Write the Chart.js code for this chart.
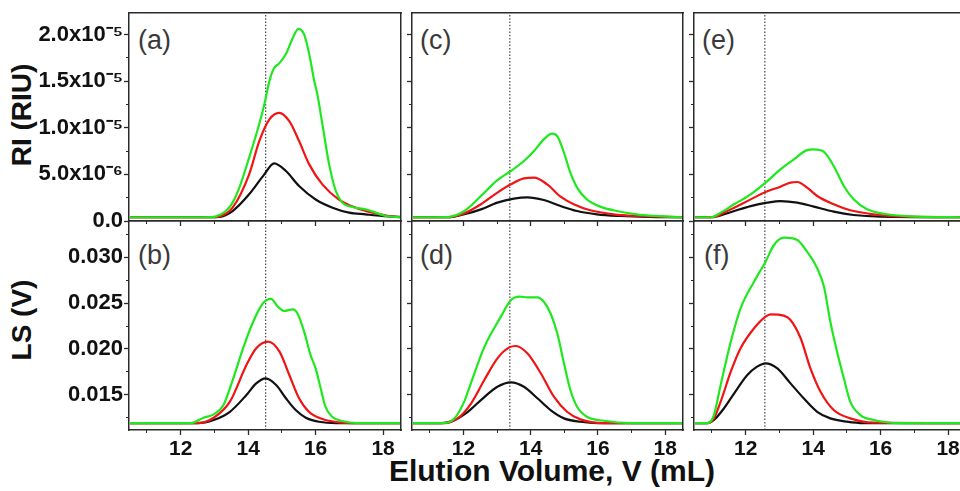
<!DOCTYPE html>
<html><head><meta charset="utf-8">
<script src="https://cdn.jsdelivr.net/npm/chart.js@4.4.0/dist/chart.umd.min.js"></script>
<style>
html,body{margin:0;padding:0;width:960px;height:491px;overflow:hidden;background:#fff;}
canvas{position:absolute;}
.t{position:absolute;font-family:'Liberation Sans',Arial,sans-serif;white-space:nowrap;color:#111;line-height:1;}
.ax{font-weight:bold;}
.pl{font-size:27px;color:#3a3a3a;}
</style></head><body>
<div class="t ax" style="left:22px;top:115px;font-size:28px;transform:translate(-50%,-50%) rotate(-90deg);">RI (RIU)</div>
<div class="t ax" style="left:22px;top:320px;font-size:28px;transform:translate(-50%,-50%) rotate(-90deg);">LS (V)</div>
<div class="t ax" style="left:552px;top:471px;font-size:30px;transform:translate(-50%,-50%);">Elution Volume, V (mL)</div>
<div id="letters"></div>
<script>
// ---------- data ----------
const xTickValues = [12, 14, 16, 18];
const xTickLabels = ['12', '14', '16', '18'];
const riTickValues = [0, 5e-6, 1e-5, 1.5e-5, 2e-5];
const riTickLabels = ['0.0', '5.0x10\u207B\u2076', '1.0x10\u207B\u2075', '1.5x10\u207B\u2075', '2.0x10\u207B\u2075'];
const lsTickValues = [0.015, 0.020, 0.025, 0.030];
const lsTickLabels = ['0.015', '0.020', '0.025', '0.030'];
const panelLetters = ['(a)', '(b)', '(c)', '(d)', '(e)', '(f)'];
const dottedV = [14.52, 13.38, 12.57];

// panel (a) RI
const aBlack = [[10.5,4e-7],[12.5,4e-7],[13.15,4.5e-7],[13.54,1.07e-6],[14.03,2.86e-6],[14.48,5.0e-6],[14.77,6.18e-6],[15.12,5.36e-6],[15.51,3.75e-6],[16.0,2.3e-6],[16.5,1.43e-6],[16.99,9e-7],[17.48,7.1e-7],[17.97,5.4e-7],[18.5,4.5e-7]];
const aRed = [[10.5,4e-7],[12.8,4e-7],[13.15,5e-7],[13.54,1.43e-6],[14.03,5.0e-6],[14.33,8.57e-6],[14.63,1.09e-5],[14.92,1.16e-5],[15.22,1.07e-5],[15.51,8.57e-6],[15.81,6.07e-6],[16.2,3.93e-6],[16.69,2.3e-6],[17.19,1.43e-6],[17.68,9e-7],[18.17,5.4e-7],[18.5,4e-7]];
const aGreen = [[10.5,4e-7],[12.7,4e-7],[13.05,5e-7],[13.34,1.07e-6],[13.54,1.97e-6],[13.74,3.58e-6],[14.03,6.8e-6],[14.33,1.04e-5],[14.48,1.25e-5],[14.63,1.5e-5],[14.77,1.64e-5],[14.92,1.69e-5],[15.12,1.79e-5],[15.32,1.96e-5],[15.49,2.06e-5],[15.66,2.0e-5],[15.81,1.79e-5],[15.96,1.5e-5],[16.05,1.36e-5],[16.2,1.04e-5],[16.4,6.07e-6],[16.6,3.2e-6],[16.79,1.97e-6],[17.09,1.5e-6],[17.48,1.25e-6],[17.78,9e-7],[18.07,5.4e-7],[18.5,4e-7]];
// panel (b) LS
const bBlack = [[10.5,0.0119],[12.5,0.0119],[12.98,0.01224],[13.46,0.01314],[13.95,0.01497],[14.24,0.01624],[14.52,0.01679],[14.83,0.01606],[15.12,0.01461],[15.41,0.01333],[15.71,0.01249],[16.1,0.01205],[16.6,0.0119],[18.5,0.0119]];
const bRed = [[10.5,0.0119],[12.49,0.0119],[12.98,0.01249],[13.46,0.01424],[13.95,0.01824],[14.24,0.02007],[14.59,0.02079],[14.93,0.0197],[15.22,0.01715],[15.51,0.01461],[15.8,0.01314],[16.2,0.01235],[16.68,0.01199],[17.2,0.0119],[18.5,0.0119]];
const bGreen = [[10.5,0.0119],[12.3,0.0119],[12.68,0.01249],[12.98,0.01286],[13.27,0.01388],[13.56,0.01679],[13.85,0.02007],[14.15,0.02297],[14.44,0.02498],[14.68,0.02545],[14.88,0.02461],[15.07,0.02414],[15.32,0.02432],[15.46,0.02389],[15.66,0.02188],[15.85,0.01933],[16.0,0.01788],[16.15,0.0157],[16.29,0.01369],[16.49,0.0126],[16.78,0.01213],[17.27,0.0119],[18.5,0.0119]];
// panel (c) RI
const cBlack = [[10.5,4e-7],[11.54,4e-7],[12.03,7.2e-7],[12.52,1.25e-6],[13.01,1.97e-6],[13.5,2.4e-6],[13.9,2.54e-6],[14.39,2.25e-6],[14.89,1.6e-6],[15.38,1.07e-6],[15.97,7.2e-7],[16.66,5.4e-7],[17.5,4.3e-7],[18.5,4e-7]];
const cRed = [[10.5,4e-7],[11.6,4.2e-7],[12.03,8.2e-7],[12.52,1.79e-6],[13.01,3.04e-6],[13.41,3.93e-6],[13.8,4.57e-6],[14.1,4.65e-6],[14.49,3.93e-6],[14.89,2.61e-6],[15.28,1.79e-6],[15.77,1.15e-6],[16.46,7.2e-7],[17.15,5.4e-7],[18.5,4e-7]];
const cGreen = [[10.5,4e-7],[11.5,4.2e-7],[12.03,1.07e-6],[12.52,2.68e-6],[13.01,4.39e-6],[13.41,5.36e-6],[13.8,6.43e-6],[14.1,7.5e-6],[14.39,8.75e-6],[14.64,9.36e-6],[14.79,9.1e-6],[14.99,7.33e-6],[15.18,5.19e-6],[15.38,3.58e-6],[15.67,2.32e-6],[16.07,1.54e-6],[16.56,1.07e-6],[17.15,7.2e-7],[17.74,5.4e-7],[18.5,4e-7]];
// panel (d) LS
const dBlack = [[10.5,0.0119],[11.34,0.0119],[11.73,0.01224],[12.13,0.01314],[12.52,0.01442],[13.01,0.01587],[13.41,0.01635],[13.8,0.01587],[14.2,0.01461],[14.59,0.01333],[14.99,0.01242],[15.48,0.01205],[16.0,0.0119],[18.5,0.0119]];
const dRed = [[10.5,0.0119],[11.44,0.0119],[11.83,0.01242],[12.23,0.01406],[12.62,0.0166],[13.01,0.01897],[13.36,0.02017],[13.56,0.02032],[13.9,0.01952],[14.3,0.01734],[14.69,0.01478],[15.08,0.01314],[15.48,0.01231],[16.17,0.0119],[18.5,0.0119]];
const dGreen = [[10.5,0.0119],[11.34,0.0119],[11.73,0.0124],[12.03,0.0143],[12.13,0.0153],[12.62,0.0202],[13.11,0.0235],[13.41,0.0253],[13.66,0.0257],[13.9,0.02563],[14.2,0.02563],[14.39,0.02515],[14.59,0.02389],[14.79,0.0217],[14.99,0.01843],[15.18,0.01551],[15.38,0.01369],[15.67,0.0126],[16.17,0.01216],[17.0,0.0119],[18.5,0.0119]];
// panel (e) RI
const eBlack = [[10.5,4e-7],[10.97,4e-7],[11.26,6.1e-7],[11.66,1.07e-6],[12.15,1.6e-6],[12.64,1.97e-6],[13.03,2.14e-6],[13.53,1.97e-6],[14.02,1.54e-6],[14.61,1.0e-6],[15.2,6.4e-7],[15.99,4.6e-7],[18.5,4e-7]];
const eRed = [[10.5,4e-7],[11.06,4.2e-7],[11.36,9e-7],[11.66,1.43e-6],[12.15,2.32e-6],[12.59,3.1e-6],[13.03,3.68e-6],[13.33,4.11e-6],[13.53,4.18e-6],[13.82,3.58e-6],[14.12,2.68e-6],[14.61,1.79e-6],[15.1,1.15e-6],[15.79,7.2e-7],[16.78,4.7e-7],[18.5,4e-7]];
const eGreen = [[10.5,4e-7],[10.97,4e-7],[11.26,9e-7],[11.66,1.79e-6],[12.15,2.86e-6],[12.59,4.11e-6],[13.03,5.54e-6],[13.43,6.61e-6],[13.82,7.6e-6],[14.02,7.68e-6],[14.32,7.4e-6],[14.61,5.9e-6],[14.91,3.75e-6],[15.2,2.32e-6],[15.6,1.25e-6],[16.19,7.2e-7],[17.07,4.7e-7],[18.5,4e-7]];
// panel (f) LS
const fBlack = [[10.5,0.0119],[10.87,0.0119],[11.06,0.01224],[11.36,0.01352],[11.66,0.01515],[12.05,0.01715],[12.34,0.01806],[12.59,0.01843],[12.94,0.01788],[13.33,0.01624],[13.72,0.01461],[14.12,0.01314],[14.51,0.01242],[15.0,0.01206],[15.5,0.0119],[18.5,0.0119]];
const fRed = [[10.5,0.0119],[10.87,0.0119],[11.06,0.01242],[11.26,0.01424],[11.56,0.01751],[11.85,0.02007],[12.25,0.02225],[12.59,0.02352],[12.74,0.02378],[13.13,0.02363],[13.33,0.02316],[13.63,0.02116],[13.92,0.01788],[14.22,0.01533],[14.61,0.01333],[15.1,0.01242],[15.79,0.01195],[18.5,0.0119]];
const fGreen = [[10.5,0.0119],[10.87,0.0119],[11.06,0.01278],[11.26,0.01606],[11.56,0.02079],[11.85,0.02443],[12.25,0.02734],[12.59,0.02952],[12.84,0.03134],[13.13,0.03214],[13.53,0.03189],[13.82,0.03061],[14.12,0.0288],[14.32,0.0268],[14.51,0.02297],[14.71,0.01969],[14.91,0.01679],[15.1,0.01424],[15.4,0.01278],[15.79,0.01224],[16.58,0.0119],[18.5,0.0119]];

// axis ranges
const X_MIN = 10.47, X_MAX = 18.53;
const RI_MIN = 0, RI_MAX = 2.23e-5;
const LS_MIN = 0.01115, LS_MAX = 0.03396;

// ---------- layout ----------
const AX = '#2a2a2a';
const FONT = "'Liberation Sans', Arial, sans-serif";
const COLS = [{plotLeft:129, plotW:272}, {plotLeft:412, plotW:271}, {plotLeft:694, plotW:272}];
const ROWS = [{canvasTop:0, padTop:13, plotH:208, B:12}, {canvasTop:211, padTop:10, plotH:209, B:40}];
const LETTER_POS = [[138, 27], [138, 242], [420, 27], [420, 242], [702, 27], [704, 242]];

const panels = [
  {col:0,row:0,series:[aGreen,aRed,aBlack]},
  {col:0,row:1,series:[bGreen,bRed,bBlack]},
  {col:1,row:0,series:[cGreen,cRed,cBlack]},
  {col:1,row:1,series:[dGreen,dRed,dBlack]},
  {col:2,row:0,series:[eGreen,eRed,eBlack]},
  {col:2,row:1,series:[fGreen,fRed,fBlack]}
];
const seriesColors = ['#1fe81f', '#f01414', '#111111'];

function fix(prop, val){
  return function(s){ s[prop] = val; s.paddingTop = 0; s.paddingBottom = 0; s.paddingLeft = 0; s.paddingRight = 0; };
}
function pick(v, vals, labels){
  for (let i = 0; i < vals.length; i++) if (Math.abs(v - vals[i]) < Math.abs(vals[1]-vals[0]) * 1e-6) return labels[i];
  return '';
}

panels.forEach((p, idx) => {
  const c = COLS[p.col], r = ROWS[p.row];
  const L = p.col === 0 ? c.plotLeft : 12;
  const padRight = 4;
  const cv = document.createElement('canvas');
  const W = L + c.plotW + padRight, H = r.padTop + r.plotH + r.B;
  cv.width = W; cv.height = H;
  cv.style.left = (c.plotLeft - L) + 'px';
  cv.style.top = r.canvasTop + 'px';
  cv.style.width = W + 'px'; cv.style.height = H + 'px';
  document.body.appendChild(cv);

  const isRI = p.row === 0;
  const yMin = isRI ? RI_MIN : LS_MIN, yMax = isRI ? RI_MAX : LS_MAX;
  const yStep = isRI ? 5e-6 : 0.005;
  const yVals = isRI ? riTickValues : lsTickValues;
  const yLabs = isRI ? riTickLabels : lsTickLabels;
  const dot = dottedV[p.col];

  const datasets = p.series.map((s, i) => ({
    data: s.map(q => ({x: q[0], y: q[1]})),
    borderColor: seriesColors[i], borderWidth: 2.2,
    pointRadius: 0, fill: false, tension: 0.4, cubicInterpolationMode: 'monotone'
  }));
  datasets.push({
    data: [{x: dot, y: yMin}, {x: dot, y: yMax}],
    borderColor: '#333', borderWidth: 1.1, borderDash: [1.5, 1.8],
    pointRadius: 0, fill: false, tension: 0
  });

  const xFont = {family: FONT, size: 21, weight: 'bold'};
  const yFont = {family: FONT, size: 22, weight: 'bold'};
  new Chart(cv, {
    type: 'line',
    data: {datasets},
    options: {
      responsive: false, animation: false, events: [],
      layout: {padding: {top: r.padTop, right: padRight, left: 0, bottom: 0}},
      plugins: {legend: {display: false}, tooltip: {enabled: false}},
      scales: {
        xMinor: {type: 'linear', position: 'bottom', weight: 0, min: X_MIN, max: X_MAX, afterFit: fix('height', 0),
          ticks: {display: false, stepSize: 1, includeBounds: false, autoSkip: false},
          grid: {display: true, drawOnChartArea: false, drawTicks: true, tickLength: 3, tickColor: AX, tickWidth: 1},
          border: {display: false}},
        x: {type: 'linear', position: 'bottom', weight: 1, min: X_MIN, max: X_MAX, afterFit: fix('height', r.B),
          ticks: {display: p.row === 1, stepSize: 2, includeBounds: false, autoSkip: false, maxRotation: 0, padding: 2,
            font: xFont, color: '#111', callback: v => pick(v, xTickValues, xTickLabels)},
          grid: {display: true, drawOnChartArea: false, drawTicks: true, tickLength: 5, tickColor: AX, tickWidth: 1.3},
          border: {display: true, color: AX, width: 1.5}},
        xTop: {type: 'linear', position: 'top', min: X_MIN, max: X_MAX, afterFit: fix('height', 0),
          ticks: {display: false, stepSize: 2, includeBounds: false},
          grid: {display: true, drawOnChartArea: false, drawTicks: false},
          border: {display: true, color: AX, width: 1.5}},
        yMinor: {type: 'linear', position: 'left', weight: 0, min: yMin, max: yMax, afterFit: fix('width', 0),
          ticks: {display: false, stepSize: yStep / 2, includeBounds: false, autoSkip: false},
          grid: {display: true, drawOnChartArea: false, drawTicks: true, tickLength: 3, tickColor: AX, tickWidth: 1},
          border: {display: false}},
        y: {type: 'linear', position: 'left', weight: 1, min: yMin, max: yMax, afterFit: fix('width', L),
          ticks: {display: p.col === 0, stepSize: yStep, includeBounds: false, autoSkip: false, padding: 1,
            font: yFont, color: '#111', callback: v => pick(v, yVals, yLabs)},
          grid: {display: true, drawOnChartArea: false, drawTicks: true, tickLength: 5, tickColor: AX, tickWidth: 1.3},
          border: {display: true, color: AX, width: 1.5}},
        yRight: {type: 'linear', position: 'right', min: yMin, max: yMax, afterFit: fix('width', 0),
          ticks: {display: false, stepSize: yStep, includeBounds: false},
          grid: {display: true, drawOnChartArea: false, drawTicks: false},
          border: {display: true, color: AX, width: 1.5}}
      }
    }
  });

  const d = document.createElement('div');
  d.className = 't pl';
  d.textContent = panelLetters[idx];
  d.style.left = LETTER_POS[idx][0] + 'px';
  d.style.top = LETTER_POS[idx][1] + 'px';
  document.getElementById('letters').appendChild(d);
});
</script>
</body></html>
